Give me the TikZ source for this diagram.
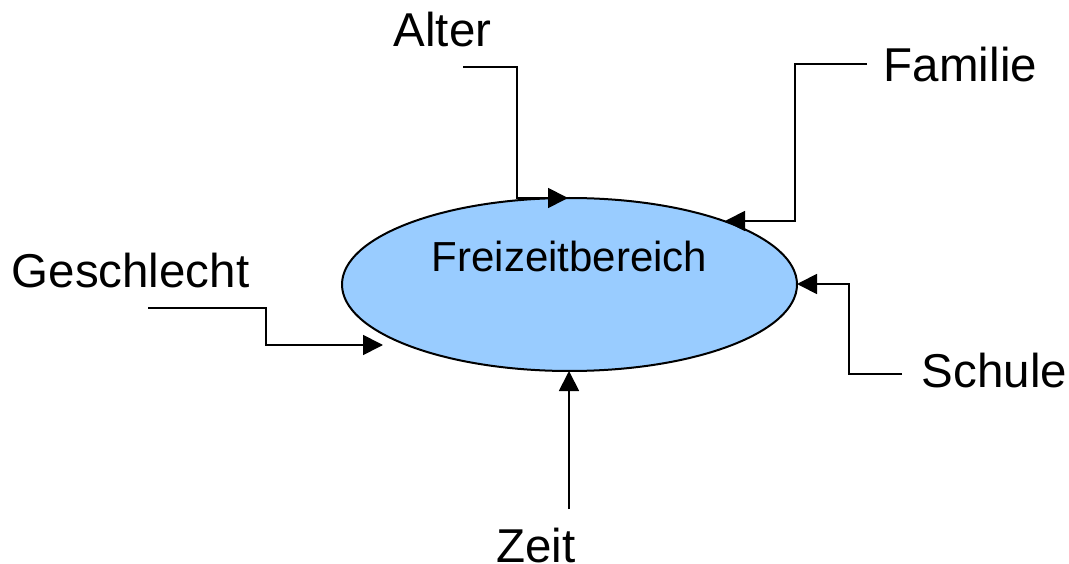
\documentclass[tikz,border=0pt]{standalone}
\usepackage{fontspec}
\setmainfont{Liberation Sans}
\usetikzlibrary{shapes.geometric,arrows.meta}
\definecolor{areablue}{HTML}{99CCFF}
\tikzset{
  factor/.style={anchor=base, inner sep=0pt, font=\fontsize{47.5}{57}\selectfont},
  area/.style={ellipse, draw=black, line width=2pt, fill=areablue,
               minimum width=455pt, minimum height=173pt, inner sep=0pt},
  link/.style={line width=1.8pt, -{Triangle[length=20pt,width=20pt]}}
}
\begin{document}
\begin{tikzpicture}[x=1pt,y=-1pt]
\useasboundingbox (0,0) rectangle (1069,564);

% central area
\node[area] (F) at (569.5,284.5) {};
\node[anchor=base, inner sep=0pt, font=\fontsize{42}{50}\selectfont] (Ftext) at (569.5,272) {Freizeitbereich};

% influencing factors
\node[factor] (alter) at (442.5,47) {Alter};
\node[factor] (familie) at (960.5,82) {Familie};
\node[factor] (geschlecht) at (130.5,288) {Geschlecht};
\node[factor] (schule) at (994.5,387) {Schule};
\node[factor] (zeit) at (536,562) {Zeit};

% line start points beside the labels
\coordinate (a0) at (463,67);
\coordinate (f0) at (867,64);
\coordinate (g0) at (148,308);
\coordinate (s0) at (902,374);
\coordinate (z0) at (569,509);

% arrow tips on the ellipse
\coordinate (a1) at (568,198);
\coordinate (f1) at (725,221);
\coordinate (g1) at (383,345);
\coordinate (s1) at (797,284);
\coordinate (z1) at (569,371);

\draw[link] (a0) -| (517,198) -- (a1);
\draw[link] (f0) -| (795,221) -- (f1);
\draw[link] (g0) -| (266,345) -- (g1);
\draw[link] (s0) -| (849,284) -- (s1);
\draw[link] (z0) -- (z1);
\end{tikzpicture}
\end{document}
